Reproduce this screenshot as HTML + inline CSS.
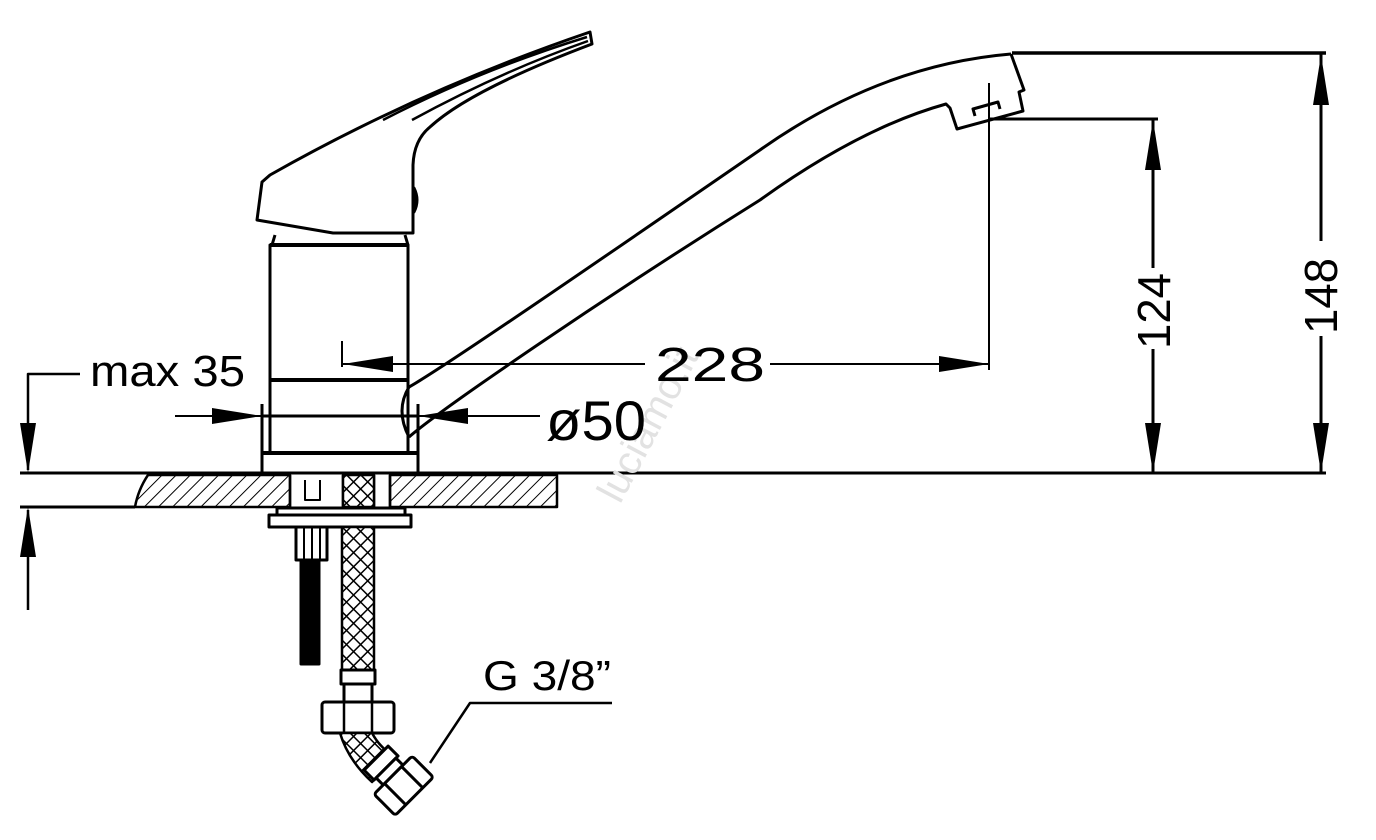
<!DOCTYPE html>
<html><head><meta charset="utf-8"><style>html,body{margin:0;padding:0;background:#fff}svg{display:block}</style></head>
<body>
<svg width="1376" height="840" viewBox="0 0 1376 840" xmlns="http://www.w3.org/2000/svg" font-family="Liberation Sans, sans-serif">
<defs>
<pattern id="hatch" width="10" height="10" patternUnits="userSpaceOnUse" patternTransform="rotate(45)">
<line x1="0" y1="0" x2="0" y2="10" stroke="#000" stroke-width="2"/>
</pattern>
<pattern id="mesh" width="10" height="10" patternUnits="userSpaceOnUse" patternTransform="rotate(45)">
<rect width="10" height="10" fill="#fff"/>
<path d="M0 0H10M0 0V10" stroke="#000" stroke-width="3"/>
</pattern>
</defs>
<g fill="none" stroke="#000" stroke-width="3" stroke-linejoin="round">
<path d="M270 175 Q420 90 590 32 L592 44 Q470 90 430 127 Q414 140 413 165 L413 233 L333 233 L257 220 L262 182 Z"/>
<path d="M383 120 Q480 70 587 37" stroke-width="2.5"/>
<path d="M412 120 Q500 72 588 41" stroke-width="2.5"/>
<path d="M414 188 Q420 200 414 212 Z" fill="#000"/>
<path d="M275 235 L272 245 M408 245 L405 235"/>
<rect x="270" y="245" width="138" height="135"/>
<path d="M270 245H408M270 380H408" stroke-width="4"/>
<path d="M270 380 V453 H408 V380"/>
<path d="M262 404 V473 M418 404 V473" stroke-width="3"/>
<path d="M262 453 H418" stroke-width="4"/>
<path d="M409 387 C440 370 600 260 760 150 Q880 65 1011 54"/>
<path d="M409 437 C440 410 600 300 760 200 Q860 128 946 104 L950 108 L957 129 L1023 111 L1019 92 L1024 90 L1011 54"/>
<path d="M409 387 Q395 410 409 437"/>
<path d="M975 116 L973 109 L998 102 L1000 109"/>
<path d="M1012 53 H1326" stroke-width="3.5"/>
<path d="M989 83 V370" stroke-width="2"/>
<path d="M990 119 H1158" stroke-width="3"/>
<path d="M20 473 H1326" stroke-width="3"/>
<path d="M20 507 H135" stroke-width="3"/>
<path d="M148 475 Q138 490 135 507 H290 V475 Z" fill="url(#hatch)" stroke-width="2.5"/>
<path d="M390 475 H557 V507 H390 Z" fill="url(#hatch)" stroke-width="2.5"/>
<path d="M290 475 V507 M343 475 V507 M374 475 V507 M390 475 V507" stroke-width="2.5"/>
<rect x="343" y="475" width="31" height="32" fill="url(#mesh)" stroke-width="2.5"/>
<path d="M305 480 V500 H320 V480" stroke-width="2"/>
<rect x="277" y="508" width="128" height="7"/>
<rect x="269" y="515" width="142" height="12"/>
<rect x="296" y="527" width="31" height="33"/>
<path d="M304 527 V560 M312 527 V560 M320 527 V560" stroke-width="2"/>
<rect x="301" y="560" width="18" height="104" fill="#000"/>
<rect x="342" y="527" width="32" height="143" fill="url(#mesh)" stroke-width="2.5"/>
<rect x="341" y="670" width="34" height="14" fill="#fff"/>
<rect x="344" y="684" width="28" height="18" fill="#fff"/>
<rect x="322" y="702" width="72" height="31" rx="3" fill="#fff"/>
<path d="M344 702 V733 M372 702 V733" stroke-width="2.5"/>
<path d="M340 733 Q348 760 372 782 L396 758 Q380 748 372 733 Z" fill="url(#mesh)" stroke-width="2.5"/>
<g transform="translate(386 768) rotate(-45)">
<rect x="-17" y="-14" width="34" height="14" fill="#fff"/>
<rect x="-14" y="0" width="28" height="10" fill="#fff"/>
<rect x="-27" y="10" width="54" height="30" rx="3" fill="#fff"/>
<path d="M-12 10 V40 M12 10 V40" stroke-width="3"/>
</g>
<path d="M430 763 L470 703 H612" stroke-width="2.5"/>
<path d="M80 374 H28 V470 M28 510 V610" stroke-width="2.5"/>
<path d="M342 341 V367" stroke-width="2"/>
<path d="M342 364 H645 M770 364 H989" stroke-width="2"/>
<path d="M175 416 H262 M418 416 H540" stroke-width="2"/>
<path d="M262 416 H418" stroke-width="3"/>
<path d="M1153 120 V268 M1153 349 V473" stroke-width="3"/>
<path d="M1321 53 V241 M1321 336 V473" stroke-width="3"/>
</g>
<g fill="#000">
<path d="M28 473 L20 423 L36 423 Z"/>
<path d="M28 507 L20 557 L36 557 Z"/>
<path d="M343 364 L393 356 L393 372 Z"/>
<path d="M989 364 L939 356 L939 372 Z"/>
<path d="M262 416 L212 408 L212 424 Z"/>
<path d="M418 416 L468 408 L468 424 Z"/>
<path d="M1153 120 L1145 170 L1161 170 Z"/>
<path d="M1153 473 L1145 423 L1161 423 Z"/>
<path d="M1321 55 L1313 105 L1329 105 Z"/>
<path d="M1321 473 L1313 423 L1329 423 Z"/>
</g>
<text transform="translate(620 505) rotate(-62)" font-size="40" fill="#e2e2e2">luciamo.it</text>
<text x="90" y="386" font-size="44" textLength="155" lengthAdjust="spacingAndGlyphs">max 35</text>
<text x="655" y="381" font-size="48" textLength="110" lengthAdjust="spacingAndGlyphs">228</text>
<text x="546" y="440" font-size="56" textLength="100" lengthAdjust="spacingAndGlyphs">ø50</text>
<text x="483" y="690" font-size="42" textLength="128" lengthAdjust="spacingAndGlyphs">G 3/8”</text>
<text transform="translate(1170 349) rotate(-90)" font-size="46" textLength="76" lengthAdjust="spacingAndGlyphs">124</text>
<text transform="translate(1337 334) rotate(-90)" font-size="46" textLength="76" lengthAdjust="spacingAndGlyphs">148</text>
</svg>
</body></html>
